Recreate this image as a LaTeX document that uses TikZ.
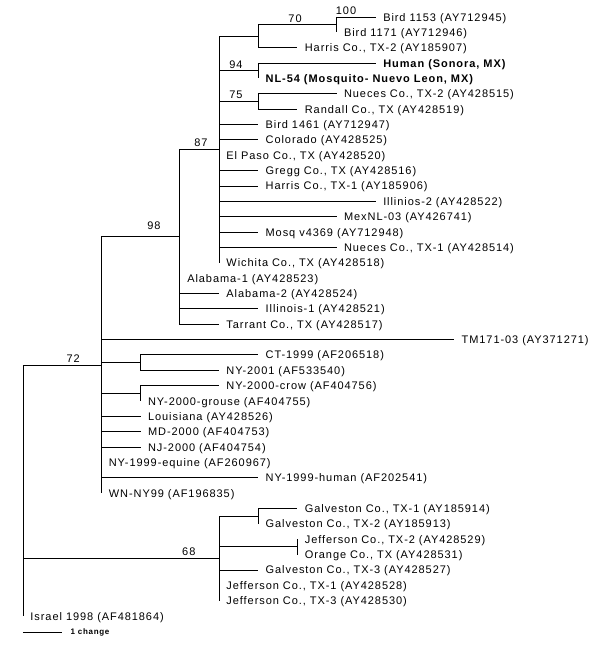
\documentclass[tikz,border=0pt]{standalone}
\usepackage{fontspec}
\setmainfont[LetterSpace=8.5]{Liberation Sans}
\usepackage{tikz}
\usetikzlibrary{positioning,calc}

\begin{document}
\begin{tikzpicture}[x=39.2pt, y=-15.36pt, line width=0.9pt,
    tip_label/.style={anchor=west, inner sep=0pt, xshift=7pt, text height=8pt, text depth=0pt, font=\fontsize{11}{13}\selectfont},
    boot_label/.style={above, inner sep=2pt, font=\fontsize{11}{13}\selectfont},
    bar_label/.style={inner sep=0pt, font=\fontsize{8}{9}\selectfont\bfseries}]

    \fill[white] (-23pt,-629pt) rectangle (577pt,17pt);
    \useasboundingbox (-23pt,-629pt) rectangle (577pt,17pt);

    % inner nodes of the tree
    \coordinate (root) at (0,22.65625);
    \coordinate (n72) at (2,22.65625);
    \coordinate (n98) at (4,14.3125);
    \coordinate (n87) at (5,8.625);
    \coordinate (n70) at (6,1.25);
    \coordinate (n100) at (8,0.5);
    \coordinate (n94) at (6,3.5);
    \coordinate (n75) at (6,5.5);
    \coordinate (nct) at (3,22.5);
    \coordinate (ncrow) at (3,24.5);
    \coordinate (n68) at (5,35.25);
    \coordinate (ngalv) at (6,32.5);
    \coordinate (njeff) at (7,34.5);

    % tips
    \coordinate (t1153) at (9,0);       \node[tip_label] (l1153) at (t1153) {Bird 1153 (AY712945)};
    \coordinate (t1171) at (8,1);       \node[tip_label] (l1171) at (t1171) {Bird 1171 (AY712946)};
    \coordinate (tharris2) at (7,2);    \node[tip_label] (lharris2) at (tharris2) {Harris Co., TX-2 (AY185907)};
    \coordinate (thuman) at (9,3);      \node[tip_label] (lhuman) at (thuman) {\bfseries Human (Sonora, MX)};
    \coordinate (tnl54) at (6,4);       \node[tip_label] (lnl54) at (tnl54) {\bfseries NL-54 (Mosquito- Nuevo Leon, MX)};
    \coordinate (tnueces2) at (8,5);    \node[tip_label] (lnueces2) at (tnueces2) {Nueces Co., TX-2 (AY428515)};
    \coordinate (trandall) at (7,6);    \node[tip_label] (lrandall) at (trandall) {Randall Co., TX (AY428519)};
    \coordinate (t1461) at (6,7);       \node[tip_label] (l1461) at (t1461) {Bird 1461 (AY712947)};
    \coordinate (tcolorado) at (6,8);   \node[tip_label] (lcolorado) at (tcolorado) {Colorado (AY428525)};
    \coordinate (telpaso) at (5,9);     \node[tip_label] (lelpaso) at (telpaso) {El Paso Co., TX (AY428520)};
    \coordinate (tgregg) at (6,10);     \node[tip_label] (lgregg) at (tgregg) {Gregg Co., TX (AY428516)};
    \coordinate (tharris1) at (6,11);   \node[tip_label] (lharris1) at (tharris1) {Harris Co., TX-1 (AY185906)};
    \coordinate (tillinios2) at (9,12); \node[tip_label] (lillinios2) at (tillinios2) {Illinios-2 (AY428522)};
    \coordinate (tmexnl) at (8,13);     \node[tip_label] (lmexnl) at (tmexnl) {MexNL-03 (AY426741)};
    \coordinate (tmosq) at (6,14);      \node[tip_label] (lmosq) at (tmosq) {Mosq v4369 (AY712948)};
    \coordinate (tnueces1) at (8,15);   \node[tip_label] (lnueces1) at (tnueces1) {Nueces Co., TX-1 (AY428514)};
    \coordinate (twichita) at (5,16);   \node[tip_label] (lwichita) at (twichita) {Wichita Co., TX (AY428518)};
    \coordinate (talabama1) at (4,17);  \node[tip_label] (lalabama1) at (talabama1) {Alabama-1 (AY428523)};
    \coordinate (talabama2) at (5,18);  \node[tip_label] (lalabama2) at (talabama2) {Alabama-2 (AY428524)};
    \coordinate (tillinois1) at (6,19); \node[tip_label] (lillinois1) at (tillinois1) {Illinois-1 (AY428521)};
    \coordinate (ttarrant) at (5,20);   \node[tip_label] (ltarrant) at (ttarrant) {Tarrant Co., TX (AY428517)};
    \coordinate (ttm171) at (11,21);    \node[tip_label] (ltm171) at (ttm171) {TM171-03 (AY371271)};
    \coordinate (tct) at (6,22);        \node[tip_label] (lct) at (tct) {CT-1999 (AF206518)};
    \coordinate (tny2001) at (5,23);    \node[tip_label] (lny2001) at (tny2001) {NY-2001 (AF533540)};
    \coordinate (tcrow) at (5,24);      \node[tip_label] (lcrow) at (tcrow) {NY-2000-crow (AF404756)};
    \coordinate (tgrouse) at (3,25);    \node[tip_label] (lgrouse) at (tgrouse) {NY-2000-grouse (AF404755)};
    \coordinate (tlouisiana) at (3,26); \node[tip_label] (llouisiana) at (tlouisiana) {Louisiana (AY428526)};
    \coordinate (tmd) at (3,27);        \node[tip_label] (lmd) at (tmd) {MD-2000 (AF404753)};
    \coordinate (tnj) at (3,28);        \node[tip_label] (lnj) at (tnj) {NJ-2000 (AF404754)};
    \coordinate (tequine) at (2,29);    \node[tip_label] (lequine) at (tequine) {NY-1999-equine (AF260967)};
    \coordinate (tnyhuman) at (6,30);   \node[tip_label] (lnyhuman) at (tnyhuman) {NY-1999-human (AF202541)};
    \coordinate (twn) at (2,31);        \node[tip_label] (lwn) at (twn) {WN-NY99 (AF196835)};
    \coordinate (tgalv1) at (7,32);     \node[tip_label] (lgalv1) at (tgalv1) {Galveston Co., TX-1 (AY185914)};
    \coordinate (tgalv2) at (6,33);     \node[tip_label] (lgalv2) at (tgalv2) {Galveston Co., TX-2 (AY185913)};
    \coordinate (tjeff2) at (7,34);     \node[tip_label] (ljeff2) at (tjeff2) {Jefferson Co., TX-2 (AY428529)};
    \coordinate (torange) at (7,35);    \node[tip_label] (lorange) at (torange) {Orange Co., TX (AY428531)};
    \coordinate (tgalv3) at (6,36);     \node[tip_label] (lgalv3) at (tgalv3) {Galveston Co., TX-3 (AY428527)};
    \coordinate (tjeff1) at (5,37);     \node[tip_label] (ljeff1) at (tjeff1) {Jefferson Co., TX-1 (AY428528)};
    \coordinate (tjeff3) at (5,38);     \node[tip_label] (ljeff3) at (tjeff3) {Jefferson Co., TX-3 (AY428530)};
    \coordinate (tisrael) at (0,39);    \node[tip_label] (lisrael) at (tisrael) {Israel 1998 (AF481864)};

    % branches
    \draw (root) |- node[boot_label, pos=0.82] (b72) {72} (n72);
    \draw (root) |- node[boot_label, pos=0.923] (b68) {68} (n68);
    \draw (root) |- (tisrael);

    \draw (n72) |- node[boot_label, pos=0.835, yshift=5pt] (b98) {98} (n98);
    \draw (n72) |- (ttm171) (n72) |- (nct) (n72) |- (ncrow) (n72) |- (tlouisiana) (n72) |- (tmd)
        (n72) |- (tnj) (n72) |- (tequine) (n72) |- (tnyhuman) (n72) |- (twn);

    \draw (n98) |- node[boot_label, pos=0.77] (b87) {87} (n87);
    \draw (n98) |- (talabama1) (n98) |- (talabama2) (n98) |- (tillinois1) (n98) |- (ttarrant);

    \draw (n87) |- node[boot_label, pos=0.715] (b94) {94} (n94);
    \draw (n87) |- node[boot_label, pos=0.715] (b75) {75} (n75);
    \draw (n87) |- (n70) (n87) |- (t1461) (n87) |- (tcolorado) (n87) |- (telpaso) (n87) |- (tgregg)
        (n87) |- (tharris1) (n87) |- (tillinios2) (n87) |- (tmexnl) (n87) |- (tmosq)
        (n87) |- (tnueces1) (n87) |- (twichita);

    \draw (n70) |- node[boot_label, pos=0.735] (b70) {70} (n100);
    \draw (n70) |- (tharris2);
    \draw (n100) |- node[boot_label, pos=0.62] (b100) {100} (t1153);
    \draw (n100) |- (t1171);
    \draw (n94) |- (thuman) (n94) |- (tnl54);
    \draw (n75) |- (tnueces2) (n75) |- (trandall);
    \draw (nct) |- (tct) (nct) |- (tny2001);
    \draw (ncrow) |- (tcrow) (ncrow) |- (tgrouse);

    \draw (n68) |- (ngalv) (n68) |- (njeff) (n68) |- (tgalv3) (n68) |- (tjeff1) (n68) |- (tjeff3);
    \draw (ngalv) |- (tgalv1) (ngalv) |- (tgalv2);
    \draw (njeff) |- (tjeff2) (njeff) |- (torange);

    % scale bar
    \coordinate (bar_a) at (0,40.1);
    \coordinate (bar_b) at (1,40.1);
    \draw (bar_a) -- (bar_b);
    \node[bar_label, right=8pt of bar_b] (bar_text) {1 change};
\end{tikzpicture}
\end{document}
